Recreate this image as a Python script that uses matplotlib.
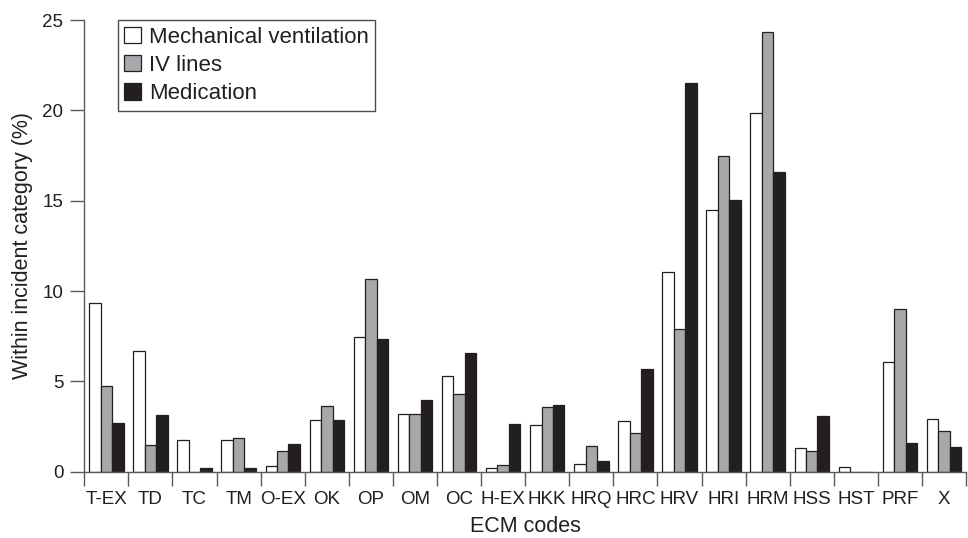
import matplotlib
matplotlib.use("Agg")
import matplotlib.pyplot as plt
import numpy as np

categories = ["T-EX", "TD", "TC", "TM", "O-EX", "OK", "OP", "OM", "OC", "H-EX",
              "HKK", "HRQ", "HRC", "HRV", "HRI", "HRM", "HSS", "HST", "PRF", "X"]
mech_vent = [9.32, 6.67, 1.76, 1.76, 0.30, 2.88, 7.48, 3.19, 5.30, 0.20,
             2.60, 0.42, 2.78, 11.04, 14.49, 19.87, 1.29, 0.25, 6.06, 2.90]
iv_lines = [4.73, 1.46, 0.0, 1.84, 1.12, 3.62, 10.68, 3.19, 4.29, 0.37,
            3.59, 1.42, 2.17, 7.92, 17.50, 24.32, 1.14, 0.0, 9.00, 2.23]
medication = [2.69, 3.16, 0.20, 0.20, 1.52, 2.87, 7.33, 3.98, 6.56, 2.63,
              3.68, 0.57, 5.70, 21.53, 15.04, 16.59, 3.09, 0.0, 1.59, 1.36]
series_names = ["Mechanical ventilation", "IV lines", "Medication"]
yticks = [0, 5, 10, 15, 20, 25]

plt.rcParams['font.family'] = ['Liberation Sans', 'DejaVu Sans']
txt = '#231f20'
axc = '#5a5a5a'

fig = plt.figure(figsize=(9.68, 5.38), dpi=100)
ax = fig.add_axes([0.0871, 0.1232, 0.9109, 0.8396])

x = np.arange(len(categories)) + 0.5
w = 0.26
colors = ['white', '#a7a8ab', '#231f20']
for i, (vals, c, name) in enumerate(zip([mech_vent, iv_lines, medication], colors, series_names)):
    ax.bar(x + (i - 1) * w, vals, width=w, color=c, edgecolor='#231f20',
           linewidth=0.9, label=name, zorder=2)

ax.set_xlim(0, len(categories))
ax.set_ylim(0, 25)
ax.set_yticks(yticks)
ax.set_xticks(np.arange(len(categories) + 1))
ax.set_xticklabels([])
ax.set_xticks(x, minor=True)
ax.set_xticklabels(categories, minor=True)
ax.tick_params(axis='x', which='major', length=10, width=1, color=axc, direction='out')
ax.tick_params(axis='x', which='minor', length=0, pad=14, labelsize=13.5, labelcolor=txt)
ax.tick_params(axis='y', length=10, width=1, color=axc, direction='out', pad=5,
               labelsize=13.5, labelcolor=txt)

for s in ['top', 'right']:
    ax.spines[s].set_visible(False)
for s in ['left', 'bottom']:
    ax.spines[s].set_color(axc)
    ax.spines[s].set_linewidth(1)

ax.set_ylabel("Within incident category (%)", fontsize=15.5, color=txt, labelpad=7)
ax.set_xlabel("ECM codes", fontsize=15.5, color=txt, labelpad=6)

leg = ax.legend(loc='upper left', bbox_to_anchor=(0.038, 1.0), fontsize=16,
                frameon=True, fancybox=False, edgecolor='#231f20',
                handlelength=0.75, handleheight=0.75, handletextpad=0.35,
                labelspacing=0.33, borderpad=0.3, borderaxespad=0.0)
leg.get_frame().set_linewidth(1.0)
for t in leg.get_texts():
    t.set_color(txt)

fig.savefig("out.png", dpi=100)
